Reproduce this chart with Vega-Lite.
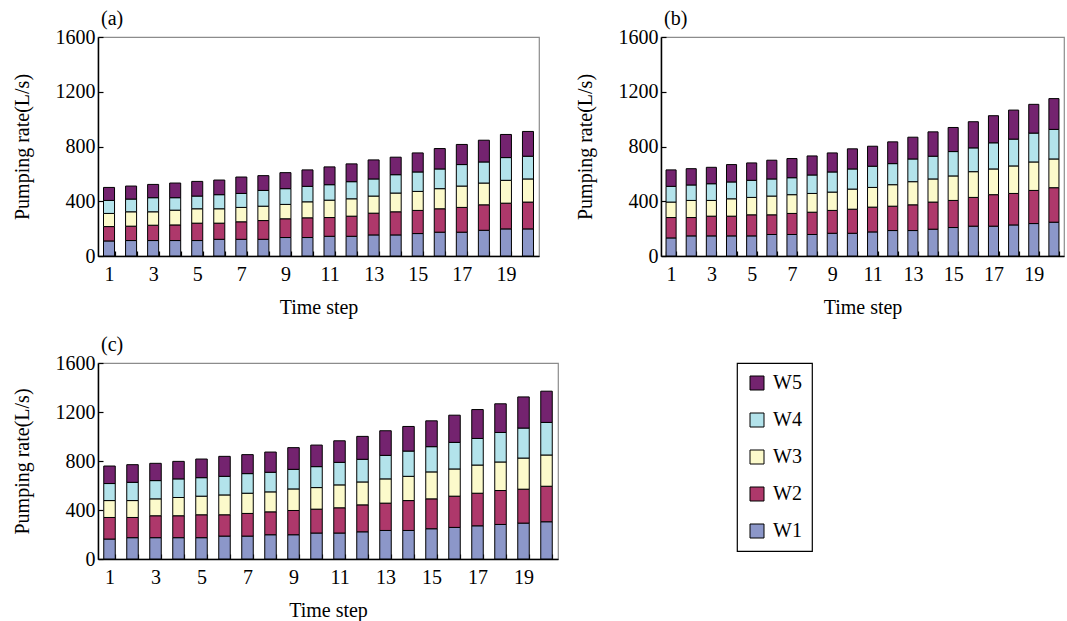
{
  "$schema": "https://vega.github.io/schema/vega-lite/v6.json",
  "background": "white",
  "padding": {"left": 11, "top": 8, "right": 0, "bottom": 0},
  "datasets": {
    "pump": [
      {"panel":"a","step":1,"W1":110,"W2":105,"W3":96,"W4":95,"W5":95},
      {"panel":"a","step":2,"W1":113,"W2":105,"W3":105,"W4":93,"W5":95},
      {"panel":"a","step":3,"W1":113,"W2":112,"W3":98,"W4":103,"W5":97},
      {"panel":"a","step":4,"W1":113,"W2":114,"W3":108,"W4":91,"W5":107},
      {"panel":"a","step":5,"W1":113,"W2":127,"W3":105,"W4":93,"W5":107},
      {"panel":"a","step":6,"W1":122,"W2":118,"W3":105,"W4":103,"W5":107},
      {"panel":"a","step":7,"W1":122,"W2":128,"W3":105,"W4":102,"W5":120},
      {"panel":"a","step":8,"W1":122,"W2":137,"W3":105,"W4":115,"W5":108},
      {"panel":"a","step":9,"W1":135,"W2":137,"W3":105,"W4":115,"W5":117},
      {"panel":"a","step":10,"W1":135,"W2":144,"W3":117,"W4":113,"W5":120},
      {"panel":"a","step":11,"W1":144,"W2":137,"W3":127,"W4":113,"W5":130},
      {"panel":"a","step":12,"W1":144,"W2":147,"W3":127,"W4":125,"W5":130},
      {"panel":"a","step":13,"W1":154,"W2":159,"W3":125,"W4":125,"W5":139},
      {"panel":"a","step":14,"W1":154,"W2":169,"W3":137,"W4":134,"W5":128},
      {"panel":"a","step":15,"W1":164,"W2":169,"W3":139,"W4":142,"W5":139},
      {"panel":"a","step":16,"W1":174,"W2":171,"W3":147,"W4":144,"W5":149},
      {"panel":"a","step":17,"W1":174,"W2":181,"W3":156,"W4":157,"W5":147},
      {"panel":"a","step":18,"W1":188,"W2":186,"W3":159,"W4":154,"W5":159},
      {"panel":"a","step":19,"W1":198,"W2":188,"W3":167,"W4":166,"W5":169},
      {"panel":"a","step":20,"W1":198,"W2":196,"W3":169,"W4":166,"W5":181},
      {"panel":"b","step":1,"W1":132,"W2":149,"W3":113,"W4":115,"W5":120},
      {"panel":"b","step":2,"W1":147,"W2":134,"W3":125,"W4":113,"W5":119},
      {"panel":"b","step":3,"W1":147,"W2":144,"W3":115,"W4":122,"W5":120},
      {"panel":"b","step":4,"W1":147,"W2":144,"W3":127,"W4":123,"W5":127},
      {"panel":"b","step":5,"W1":147,"W2":154,"W3":127,"W4":125,"W5":127},
      {"panel":"b","step":6,"W1":157,"W2":144,"W3":137,"W4":125,"W5":137},
      {"panel":"b","step":7,"W1":157,"W2":154,"W3":137,"W4":124,"W5":140},
      {"panel":"b","step":8,"W1":157,"W2":163,"W3":137,"W4":135,"W5":139},
      {"panel":"b","step":9,"W1":166,"W2":167,"W3":134,"W4":147,"W5":139},
      {"panel":"b","step":10,"W1":166,"W2":176,"W3":147,"W4":147,"W5":147},
      {"panel":"b","step":11,"W1":176,"W2":181,"W3":144,"W4":155,"W5":146},
      {"panel":"b","step":12,"W1":186,"W2":178,"W3":157,"W4":154,"W5":159},
      {"panel":"b","step":13,"W1":186,"W2":188,"W3":169,"W4":166,"W5":159},
      {"panel":"b","step":14,"W1":196,"W2":198,"W3":169,"W4":166,"W5":178},
      {"panel":"b","step":15,"W1":208,"W2":198,"W3":179,"W4":178,"W5":176},
      {"panel":"b","step":16,"W1":218,"W2":210,"W3":188,"W4":174,"W5":191},
      {"panel":"b","step":17,"W1":218,"W2":230,"W3":188,"W4":191,"W5":198},
      {"panel":"b","step":18,"W1":227,"W2":230,"W3":201,"W4":196,"W5":212},
      {"panel":"b","step":19,"W1":237,"W2":242,"W3":208,"W4":211,"W5":210},
      {"panel":"b","step":20,"W1":247,"W2":252,"W3":210,"W4":216,"W5":225},
      {"panel":"c","step":1,"W1":163,"W2":176,"W3":138,"W4":139,"W5":143},
      {"panel":"c","step":2,"W1":174,"W2":165,"W3":138,"W4":149,"W5":144},
      {"panel":"c","step":3,"W1":174,"W2":179,"W3":138,"W4":149,"W5":141},
      {"panel":"c","step":4,"W1":174,"W2":179,"W3":149,"W4":152,"W5":143},
      {"panel":"c","step":5,"W1":174,"W2":187,"W3":152,"W4":151,"W5":152},
      {"panel":"c","step":6,"W1":187,"W2":174,"W3":162,"W4":152,"W5":163},
      {"panel":"c","step":7,"W1":187,"W2":185,"W3":165,"W4":160,"W5":155},
      {"panel":"c","step":8,"W1":198,"W2":187,"W3":163,"W4":160,"W5":165},
      {"panel":"c","step":9,"W1":198,"W2":198,"W3":176,"W4":160,"W5":177},
      {"panel":"c","step":10,"W1":212,"W2":195,"W3":176,"W4":171,"W5":176},
      {"panel":"c","step":11,"W1":212,"W2":206,"W3":187,"W4":184,"W5":176},
      {"panel":"c","step":12,"W1":222,"W2":220,"W3":187,"W4":185,"W5":187},
      {"panel":"c","step":13,"W1":233,"W2":223,"W3":198,"W4":192,"W5":201},
      {"panel":"c","step":14,"W1":233,"W2":244,"W3":198,"W4":206,"W5":201},
      {"panel":"c","step":15,"W1":247,"W2":244,"W3":220,"W4":206,"W5":211},
      {"panel":"c","step":16,"W1":258,"W2":255,"W3":222,"W4":217,"W5":222},
      {"panel":"c","step":17,"W1":271,"W2":266,"W3":230,"W4":217,"W5":236},
      {"panel":"c","step":18,"W1":282,"W2":277,"W3":233,"W4":241,"W5":234},
      {"panel":"c","step":19,"W1":293,"W2":277,"W3":254,"W4":245,"W5":254},
      {"panel":"c","step":20,"W1":304,"W2":290,"W3":255,"W4":266,"W5":255}
    ]
  },
  "data": {"name": "pump"},
  "transform": [{"fold": ["W1", "W2", "W3", "W4", "W5"], "as": ["well", "value"]}],
  "config": {
    "font": "Liberation Serif",
    "view": {"stroke": "#8c8c8c", "strokeWidth": 1.2},
    "axis": {
      "labelFont": "Liberation Serif", "labelFontSize": 20, "labelColor": "black",
      "titleFont": "Liberation Serif", "titleFontSize": 20, "titleFontWeight": "normal", "titleColor": "black",
      "domainColor": "black", "domainWidth": 1.5, "tickColor": "black", "tickWidth": 1.2, "grid": false
    },
    "axisX": {"labelAngle": 0, "tickBand": "extent", "tickSize": -5, "labelPadding": 13, "titlePadding": 13},
    "axisY": {"tickSize": -5, "labelPadding": 8, "titlePadding": 23, "format": "d"},
    "title": {"font": "Liberation Serif", "fontSize": 20, "fontWeight": "normal", "anchor": "start", "frame": "group", "offset": -2, "dx": 3, "color": "black"},
    "legend": {
      "orient": "none", "legendX": 639, "legendY": 326,
      "title": null, "symbolType": "square", "symbolSize": 196, "symbolStrokeColor": "black", "symbolStrokeWidth": 1,
      "symbolOpacity": 1, "labelFont": "Liberation Serif", "labelFontSize": 20, "labelColor": "black",
      "labelOffset": 6, "rowPadding": 17, "padding": 10, "strokeColor": "black", "strokeWidth": 1.2, "fillColor": "white"
    }
  },
  "spacing": 16,
  "vconcat": [
    {
      "spacing": 34,
      "hconcat": [
        {
          "title": "(a)",
          "width": 441, "height": 219,
          "transform": [{"filter": "datum.panel == 'a'"}],
          "mark": {"type": "bar", "stroke": "black", "strokeWidth": 1},
          "encoding": {
            "x": {"field": "step", "type": "ordinal", "title": "Time step", "scale": {"paddingInner": 0.5, "paddingOuter": 0.25},
                  "axis": {"labelExpr": "datum.value % 2 == 1 ? datum.label : ''"}},
            "y": {"field": "value", "type": "quantitative", "stack": "zero", "title": "Pumping rate(L/s)",
                  "scale": {"domain": [0, 1600], "nice": false}, "axis": {"values": [0, 400, 800, 1200, 1600]}},
            "color": {"field": "well", "type": "nominal",
                      "scale": {"domain": ["W5", "W4", "W3", "W2", "W1"], "range": ["#74236f", "#b3e3eb", "#fcfacb", "#ae386b", "#8c97c9"]}},
            "order": {"field": "well", "sort": "ascending"}
          }
        },
        {
          "title": "(b)",
          "width": 403, "height": 219,
          "transform": [{"filter": "datum.panel == 'b'"}],
          "mark": {"type": "bar", "stroke": "black", "strokeWidth": 1},
          "encoding": {
            "x": {"field": "step", "type": "ordinal", "title": "Time step", "scale": {"paddingInner": 0.5, "paddingOuter": 0.25},
                  "axis": {"labelExpr": "datum.value % 2 == 1 ? datum.label : ''"}},
            "y": {"field": "value", "type": "quantitative", "stack": "zero", "title": "Pumping rate(L/s)",
                  "scale": {"domain": [0, 1600], "nice": false}, "axis": {"values": [0, 400, 800, 1200, 1600]}},
            "color": {"field": "well", "type": "nominal",
                      "scale": {"domain": ["W5", "W4", "W3", "W2", "W1"], "range": ["#74236f", "#b3e3eb", "#fcfacb", "#ae386b", "#8c97c9"]}},
            "order": {"field": "well", "sort": "ascending"}
          }
        }
      ]
    },
    {
      "hconcat": [
        {
          "title": "(c)",
          "width": 460, "height": 196,
          "transform": [{"filter": "datum.panel == 'c'"}],
          "mark": {"type": "bar", "stroke": "black", "strokeWidth": 1},
          "encoding": {
            "x": {"field": "step", "type": "ordinal", "title": "Time step", "scale": {"paddingInner": 0.5, "paddingOuter": 0.25},
                  "axis": {"labelExpr": "datum.value % 2 == 1 ? datum.label : ''"}},
            "y": {"field": "value", "type": "quantitative", "stack": "zero", "title": "Pumping rate(L/s)",
                  "scale": {"domain": [0, 1600], "nice": false}, "axis": {"values": [0, 400, 800, 1200, 1600]}},
            "color": {"field": "well", "type": "nominal",
                      "scale": {"domain": ["W5", "W4", "W3", "W2", "W1"], "range": ["#74236f", "#b3e3eb", "#fcfacb", "#ae386b", "#8c97c9"]}},
            "order": {"field": "well", "sort": "ascending"}
          }
        }
      ]
    }
  ]
}
